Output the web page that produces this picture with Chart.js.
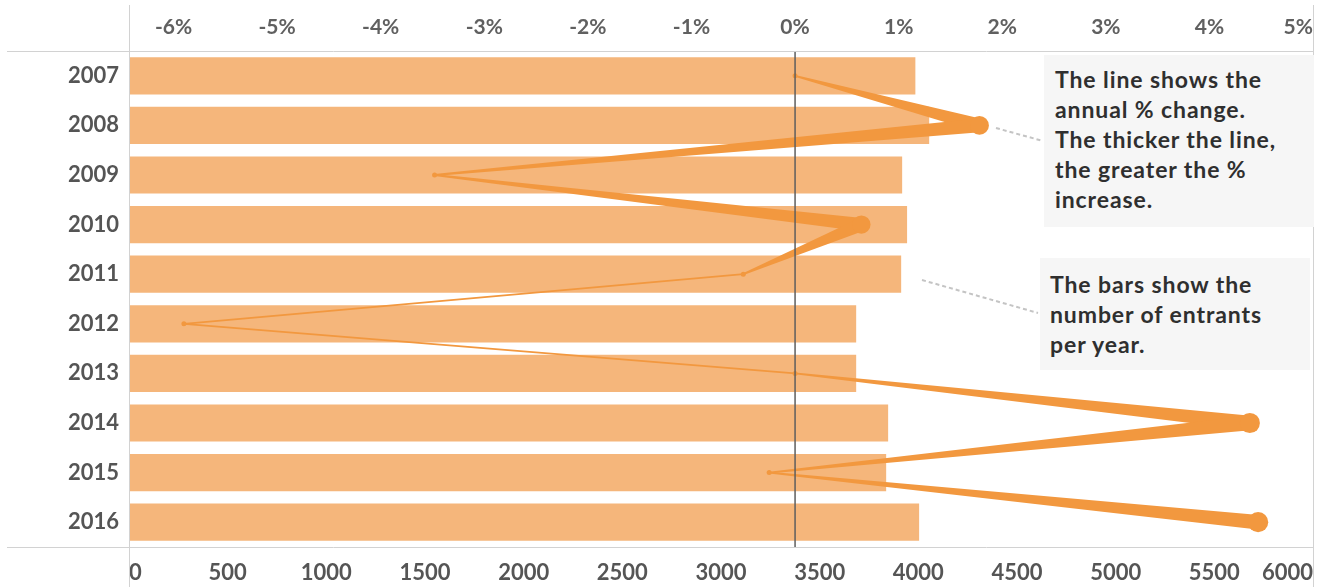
<!DOCTYPE html>
<html>
<head>
<meta charset="utf-8">
<script src="https://cdn.jsdelivr.net/npm/chart.js@4.4.0/dist/chart.umd.min.js"></script>
<style>
  html, body { margin: 0; padding: 0; background: #ffffff; }
  #wrap { position: relative; width: 1328px; height: 587px; overflow: hidden; }
  #c { position: absolute; left: 0; top: 0; }
  .note {
    position: absolute; background: #f6f6f6; color: #2f2f2f;
    font-family: Lato, "Noto Sans", sans-serif; font-weight: 700;
    font-size: 23px; line-height: 30px; letter-spacing: 0.9px; box-sizing: border-box;
    white-space: nowrap;
  }
</style>
</head>
<body>
<div id="wrap">
  <canvas id="c" width="1328" height="587"></canvas>
  <div class="note" style="left:1044px; top:55px; width:270px; height:172px; padding:9px 0 0 11px;">The line shows the<br>annual % change.<br>The thicker the line,<br>the greater the %<br>increase.</div>
  <div class="note" style="left:1040px; top:258px; width:270px; height:112px; padding:11px 0 0 10px;">The bars show the<br>number of entrants<br>per year.</div>
</div>
<script>
// ---- data ----
const years = ['2007','2008','2009','2010','2011','2012','2013','2014','2015','2016'];
const entrants = [3985, 4055, 3918, 3943, 3913, 3685, 3685, 3847, 3837, 4004];
const pctChange = [0, 1.78, -3.48, 0.64, -0.50, -5.90, 0, 4.39, -0.25, 4.47];
const entrantTicks = [0, 500, 1000, 1500, 2000, 2500, 3000, 3500, 4000, 4500, 5000, 5500, 6000];
const pctTicks = [-6, -5, -4, -3, -2, -1, 0, 1, 2, 3, 4, 5];

const PCT_MIN = -6.43, PCT_MAX = 5;
const BAR_COLOR = '#f5b67b';
const LINE_COLOR = '#f2983f';
const LABEL_FONT = 'Lato, "Noto Sans", sans-serif';

function markRadius(p) { return p > 0 ? 9 + 0.25 * p : 2.5; }
function segWidth(p) { return p > 0 ? 1.45 * markRadius(p) : 1.8; }

const decorPlugin = {
  id: 'decor',
  afterDatasetsDraw(chart) {
    const ctx = chart.ctx;
    const area = chart.chartArea;
    const meta = chart.getDatasetMeta(1);
    const pts = meta.data.map((el, i) => ({ x: el.x, y: el.y, p: pctChange[i] }));
    ctx.save();
    ctx.fillStyle = LINE_COLOR;
    // tapered segments
    for (let i = 0; i < pts.length - 1; i++) {
      const a = pts[i], b = pts[i + 1];
      const dx = b.x - a.x, dy = b.y - a.y;
      const len = Math.hypot(dx, dy) || 1;
      const nx = -dy / len, ny = dx / len;
      const wa = segWidth(a.p) / 2, wb = segWidth(b.p) / 2;
      ctx.beginPath();
      ctx.moveTo(a.x + nx * wa, a.y + ny * wa);
      ctx.lineTo(b.x + nx * wb, b.y + ny * wb);
      ctx.lineTo(b.x - nx * wb, b.y - ny * wb);
      ctx.lineTo(a.x - nx * wa, a.y - ny * wa);
      ctx.closePath();
      ctx.fill();
    }
    // marks
    pts.forEach(pt => {
      ctx.beginPath();
      ctx.arc(pt.x, pt.y, markRadius(pt.p), 0, Math.PI * 2);
      ctx.fill();
    });
    // zero line
    const x0 = chart.scales.x2.getPixelForValue(0);
    ctx.strokeStyle = '#5e5e5e';
    ctx.lineWidth = 1.5;
    ctx.beginPath();
    ctx.moveTo(x0, area.top);
    ctx.lineTo(x0, area.bottom);
    ctx.stroke();
    // frame lines
    ctx.strokeStyle = '#d2d2d2';
    ctx.lineWidth = 1;
    ctx.beginPath();
    ctx.moveTo(7, area.top + 0.5); ctx.lineTo(area.right, area.top + 0.5);
    ctx.moveTo(7, area.bottom + 0.5); ctx.lineTo(area.right, area.bottom + 0.5);
    ctx.moveTo(area.left + 0.5, 5); ctx.lineTo(area.left + 0.5, 587);
    ctx.moveTo(area.right + 0.5, 5); ctx.lineTo(area.right + 0.5, 587);
    ctx.stroke();
    // dashed connectors
    ctx.strokeStyle = '#c4c4c4';
    ctx.lineWidth = 2;
    ctx.setLineDash([4, 3]);
    ctx.beginPath();
    ctx.moveTo(996, 128); ctx.lineTo(1043, 141);
    ctx.moveTo(922, 280); ctx.lineTo(1038, 313);
    ctx.stroke();
    ctx.restore();
  }
};

new Chart(document.getElementById('c'), {
  type: 'bar',
  data: {
    labels: years,
    datasets: [
      {
        type: 'bar',
        data: entrants,
        backgroundColor: BAR_COLOR,
        xAxisID: 'x',
        yAxisID: 'y',
        barPercentage: 0.75,
        categoryPercentage: 1.0
      },
      {
        type: 'line',
        data: years.map((y, i) => ({ x: pctChange[i], y: y })),
        xAxisID: 'x2',
        yAxisID: 'y',
        showLine: false,
        pointRadius: 0,
        pointHoverRadius: 0
      }
    ]
  },
  options: {
    indexAxis: 'y',
    responsive: false,
    animation: false,
    layout: { padding: { left: 0, right: 15, top: 0, bottom: 0 } },
    plugins: { legend: { display: false }, tooltip: { enabled: false } },
    scales: {
      y: {
        type: 'category',
        position: 'left',
        grid: { display: false, drawTicks: false },
        border: { display: false },
        afterFit(s) { s.width = 129; },
        ticks: { padding: 10, color: '#555555', font: { family: LABEL_FONT, size: 22, weight: 'bold' } }
      },
      x: {
        type: 'linear',
        position: 'bottom',
        min: 0, max: 6000,
        grid: { display: false, drawTicks: false },
        border: { display: false },
        afterFit(s) { s.height = 40; },
        afterBuildTicks(s) { s.ticks = entrantTicks.map(v => ({ value: v })); },
        ticks: {
          align: 'inner', padding: 13, color: '#555555',
          font: { family: LABEL_FONT, size: 22, weight: 'bold' },
          callback: v => String(v)
        }
      },
      x2: {
        type: 'linear',
        position: 'top',
        min: PCT_MIN, max: PCT_MAX,
        grid: { display: false, drawTicks: false },
        border: { display: false },
        afterFit(s) { s.height = 51; },
        afterBuildTicks(s) { s.ticks = [{ value: PCT_MIN }].concat(pctTicks.map(v => ({ value: v }))); },
        ticks: {
          align: 'inner', padding: 11, color: '#606060',
          font: { family: LABEL_FONT, size: 21, weight: 'bold' },
          callback: v => (pctTicks.includes(v) ? v + '%' : '')
        }
      }
    }
  },
  plugins: [decorPlugin]
});
</script>
</body>
</html>
